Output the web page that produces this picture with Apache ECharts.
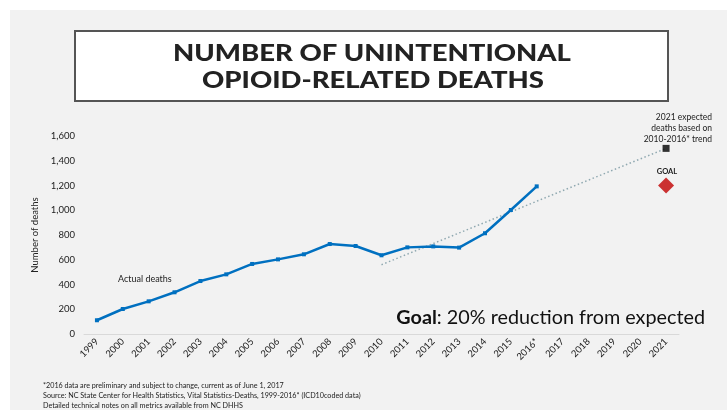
<!DOCTYPE html>
<html><head><meta charset="utf-8">
<script src="https://cdn.jsdelivr.net/npm/echarts@6/dist/echarts.min.js"></script>
<style>html,body{margin:0;padding:0;background:#fff}#c{width:727px;height:410px}</style>
</head><body><div id="c"></div>
<script>
const years = ['1999','2000','2001','2002','2003','2004','2005','2006','2007','2008','2009','2010','2011','2012','2013','2014','2015','2016*','2017','2018','2019','2020','2021'];
const actualDeaths = [111,202,264,337,428,482,566,603,644,727,711,636,700,708,698,814,1002,1193];
const trendStart = ['2010', 560];
const trendEnd = ['2021', 1500];
const expected2021 = ['2021', 1500];
const goal2021 = ['2021', 1200];
const yTicks = {min:0, max:1600, interval:200};

const F = 'Lato, "Open Sans", sans-serif';
const chart = echarts.init(document.getElementById('c'));
chart.setOption({
  backgroundColor:'#ffffff',
  animation:false,
  grid:{left:84, right:48, top:136, bottom:76, containLabel:false},
  xAxis:{type:'category', data:years, boundaryGap:true,
    axisLine:{lineStyle:{color:'#d9d9d9', width:1}}, axisTick:{show:false},
    axisLabel:{rotate:45, fontFamily:F, fontSize:9.5, color:'#222', margin:6, interval:0}},
  yAxis:{type:'value', min:yTicks.min, max:yTicks.max, interval:yTicks.interval,
    name:'Number of deaths', nameLocation:'middle', nameGap:35, nameRotate:90,
    nameTextStyle:{fontFamily:F, fontSize:9.5, color:'#222'},
    axisLine:{show:false}, axisTick:{show:false}, splitLine:{show:false},
    axisLabel:{fontFamily:F, fontSize:9.5, color:'#222', margin:9,
      formatter:v=>v.toLocaleString('en-US')}},
  graphic:[
    {type:'rect', z:-10, silent:true, shape:{x:10,y:10,width:717,height:400}, style:{fill:'#f2f2f2'}},
    {type:'rect', z:-5, silent:true, shape:{x:75,y:31,width:593,height:70}, style:{fill:'#ffffff', stroke:'#555555', lineWidth:2}},
    {type:'text', silent:true, x:372, y:53, scaleX:1.17,
      style:{text:'NUMBER OF UNINTENTIONAL', x:0, y:0, align:'center', verticalAlign:'middle', fontFamily:F, fontWeight:900, fontSize:23.5, fill:'#222'}},
    {type:'text', silent:true, x:373, y:80, scaleX:1.17,
      style:{text:'OPIOID-RELATED DEATHS', x:0, y:0, align:'center', verticalAlign:'middle', fontFamily:F, fontWeight:900, fontSize:23.5, fill:'#222'}},
    {type:'text', silent:true,
      style:{text:'Actual deaths', x:118, y:279, align:'left', verticalAlign:'middle', fontFamily:F, fontSize:9, fill:'#222'}},
    {type:'text', silent:true,
      style:{text:'2021 expected\ndeaths based on\n2010-2016* trend', x:712, y:128, align:'right', verticalAlign:'middle', fontFamily:F, fontSize:8.5, lineHeight:11, fill:'#222'}},
    {type:'text', silent:true,
      style:{text:'GOAL', x:667, y:172, align:'center', verticalAlign:'middle', fontFamily:F, fontWeight:'bold', fontSize:7.5, fill:'#222'}},
    {type:'text', silent:true,
      style:{text:'{b|Goal}: 20% reduction from expected', x:705, y:318, align:'right', verticalAlign:'middle', fontFamily:F, fontSize:19.8, fill:'#111',
        rich:{b:{fontFamily:F, fontWeight:'bold', fontSize:19.8, fill:'#111'}}}},
    {type:'text', silent:true,
      style:{text:'*2016 data are preliminary and subject to change, current as of June 1, 2017\nSource: NC State Center for Health Statistics, Vital Statistics-Deaths, 1999-2016* (ICD10coded data)\nDetailed technical notes on all metrics available from NC DHHS',
        x:43, y:396, align:'left', verticalAlign:'middle', fontFamily:F, fontSize:7.2, lineHeight:10, fill:'#222'}}
  ],
  series:[
    {type:'line', data:actualDeaths, symbol:'rect', symbolSize:4, z:3,
      lineStyle:{color:'#0070c0', width:2.5}, itemStyle:{color:'#0070c0'}},
    {type:'line', data:[trendStart, trendEnd], symbol:'none', z:2,
      lineStyle:{color:'#8fa8b0', width:1.5, type:[1.5,2.5]}},
    {type:'scatter', data:[expected2021], symbol:'rect', symbolSize:7, z:4, itemStyle:{color:'#000'}},
    {type:'scatter', data:[goal2021], symbol:'diamond', symbolSize:[16,16], z:4, itemStyle:{color:'#c00000'}}
  ]
});
</script></body></html>
